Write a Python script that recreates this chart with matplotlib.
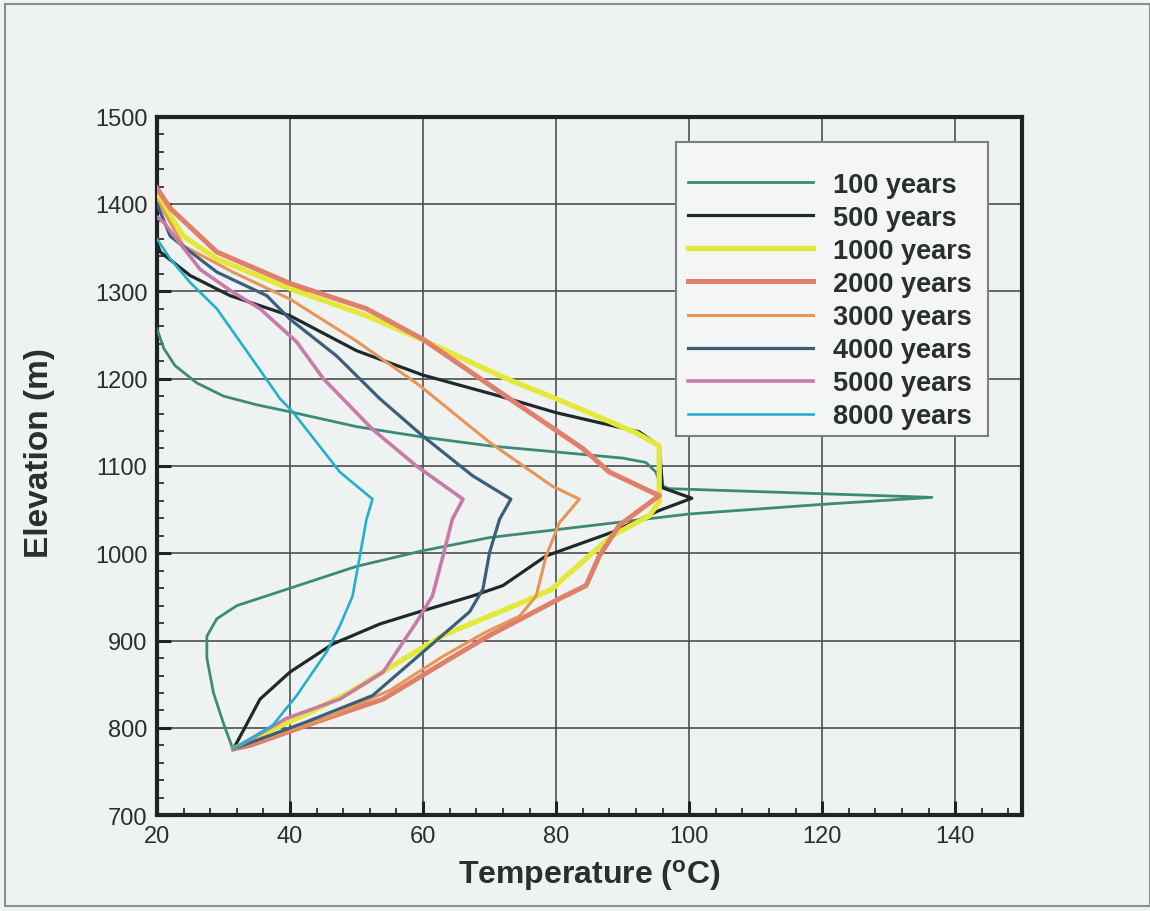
import matplotlib
matplotlib.use('Agg')
import matplotlib.pyplot as plt
from matplotlib.patches import Rectangle

plt.rcParams['font.family'] = ['Liberation Sans Narrow', 'Liberation Sans', 'DejaVu Sans']
plt.rcParams['mathtext.fontset'] = 'custom'
plt.rcParams['mathtext.rm'] = 'Liberation Sans:bold'
plt.rcParams['mathtext.it'] = 'Liberation Sans:bold'
plt.rcParams['mathtext.bf'] = 'Liberation Sans:bold'

# temperature (C) / elevation (m) profiles
t_100 = [20, 21, 22.7, 26, 30, 35, 40, 50, 60, 70, 80, 90, 93.5, 95, 95.7, 97, 136.5,
         120, 100, 80, 70, 60, 50, 40, 32, 29, 27.5, 27.5, 28.5, 30, 31.4]
e_100 = [1257, 1235, 1215, 1195, 1180, 1170, 1162, 1145, 1133, 1123, 1116, 1109, 1104, 1093, 1078, 1074, 1064,
         1056, 1045, 1027, 1018, 1003, 985, 960, 940, 925, 905, 880, 840, 805, 776]

t_500 = [20, 20.5, 25, 31, 40, 50, 60, 71.5, 80, 92.5, 95.5, 96, 100.4, 95.5, 88.4, 78.5,
         72, 67.4, 59, 53.5, 46.4, 40, 35.5, 31.5]
e_500 = [1355, 1345, 1318, 1295, 1272, 1232, 1204, 1180, 1161, 1139, 1123, 1075, 1063, 1049, 1024, 997,
         963, 951, 932, 919, 896, 864, 833, 776]

t_1000 = [20, 24, 29, 40, 51.5, 59.5, 72.5, 80, 92, 95.5, 95.5, 94, 88.4, 81.5, 79.4, 75,
          63, 59.5, 49, 43, 37, 31.5]
e_1000 = [1410, 1363, 1337, 1303, 1272, 1246, 1200, 1177, 1138, 1123, 1059, 1043, 1020, 974, 959, 944,
          906, 890, 841, 818, 797, 776]

t_2000 = [20, 22, 29, 40, 51.5, 60, 73, 84, 88, 95.5, 89.5, 86.5, 84.5, 80.5, 70, 64,
          54, 44, 34, 31.5]
e_2000 = [1418, 1395, 1345, 1309, 1280, 1245, 1177, 1120, 1093, 1066, 1032, 997, 963, 948, 906, 879,
          833, 807, 780, 776]

t_3000 = [20, 24, 31.4, 40, 50, 59.5, 70, 79.4, 83.5, 80.5, 78.5, 77, 74.5, 69.5, 63, 55,
          45, 35, 31.5]
e_3000 = [1405, 1352, 1322, 1291, 1243, 1192, 1127, 1077, 1062, 1035, 997, 951, 928, 910, 882, 843,
          810, 785, 776]

t_4000 = [20, 22, 29, 36.5, 40, 47, 53.5, 60, 67.4, 73.2, 71.5, 70, 69, 67, 60, 52.4, 42.5, 31.5]
e_4000 = [1400, 1363, 1322, 1295, 1268, 1226, 1177, 1134, 1089, 1062, 1039, 1001, 959, 933, 887, 837, 807, 776]

t_5000 = [20, 21, 26.5, 31.4, 35.5, 41, 45, 52.4, 59, 66, 64.4, 63, 61.4, 59, 54, 47.5, 39.5, 31.5]
e_5000 = [1385, 1379, 1325, 1299, 1280, 1242, 1200, 1142, 1100, 1062, 1039, 997, 951, 921, 864, 833, 811, 776]

t_8000 = [20, 22, 25, 29, 34, 38.5, 40.4, 47.5, 52.4, 51.5, 50.5, 49.4, 47.5, 45.5, 41, 37.4, 31.5]
e_8000 = [1360, 1337, 1310, 1280, 1226, 1177, 1162, 1093, 1062, 1039, 997, 951, 917, 887, 837, 803, 776]

labels = ['100 years', '500 years', '1000 years', '2000 years',
          '3000 years', '4000 years', '5000 years', '8000 years']
colors = ['#3d8a78', '#1e2a2a', '#e4e83a', '#e0806a', '#e8955a', '#3a5f7a', '#c87aa8', '#22b0cc']
widths = [2.0, 2.3, 3.8, 3.6, 2.2, 2.3, 2.6, 1.9]
series = [(t_100, e_100), (t_500, e_500), (t_1000, e_1000), (t_2000, e_2000),
          (t_3000, e_3000), (t_4000, e_4000), (t_5000, e_5000), (t_8000, e_8000)]

bg = '#eef3f2'
fig = plt.figure(figsize=(11.5, 9.12), dpi=100, facecolor=bg)
ax = fig.add_axes([0.1365, 0.105, 0.752, 0.766])
ax.set_facecolor(bg)

# outer frame around the figure
fig.patches.append(Rectangle((5 / 1150, 5 / 912), 1 - 5 / 1150, 1 - 10 / 912,
                             transform=fig.transFigure, fill=False,
                             edgecolor='#8a8f8f', linewidth=1.5))

handles = []
for (t, e), lab, c, w in zip(series, labels, colors, widths):
    h, = ax.plot(t, e, color=c, linewidth=w, label=lab, zorder=3)
    handles.append(h)

ax.set_xlim(20, 150)
ax.set_ylim(700, 1500)
ax.set_xticks([20, 40, 60, 80, 100, 120, 140])
ax.set_yticks([700, 800, 900, 1000, 1100, 1200, 1300, 1400, 1500])
ax.set_xticks(range(20, 151, 4), minor=True)
ax.set_yticks(range(700, 1501, 20), minor=True)
ax.grid(True, which='major', color='#4a4f4f', linewidth=1.2, zorder=1)
ax.set_axisbelow(True)
ax.tick_params(which='major', direction='in', length=10, width=2.2, labelsize=17,
               pad=7, colors='#1e2424', labelcolor='#2a2e2e')
ax.tick_params(which='minor', direction='in', length=5, width=1.2, colors='#1e2424')
for s in ax.spines.values():
    s.set_linewidth(3)
    s.set_color('#1e2424')

ax.set_xlabel(r'Temperature ($\mathregular{^o}$C)', fontsize=23, fontweight='bold',
              color='#2a2e2e')
ax.set_ylabel('Elevation (m)', fontsize=24, fontweight='bold', color='#2a2e2e',
              family=['Liberation Sans', 'DejaVu Sans'])
ax.xaxis.set_label_coords(0.5, -0.06)
ax.yaxis.set_label_coords(-0.118, 0.52)

# legend box
ax.add_patch(Rectangle((0.600, 0.543), 0.361, 0.421, transform=ax.transAxes,
                       facecolor='#f3f6f5', edgecolor='#7a7f7f', linewidth=1.5, zorder=4))
leg = ax.legend(handles=handles, loc='upper left', bbox_to_anchor=(0.614, 0.921),
                frameon=False, borderaxespad=0, borderpad=0, handlelength=4.6,
                handletextpad=0.75, labelspacing=0.26,
                prop={'family': ['Liberation Sans', 'DejaVu Sans'], 'weight': 'bold', 'size': 19.5})
leg.set_zorder(5)
for txt in leg.get_texts():
    txt.set_color('#2a2e2e')

fig.savefig('out.png', dpi=100, facecolor=bg)
